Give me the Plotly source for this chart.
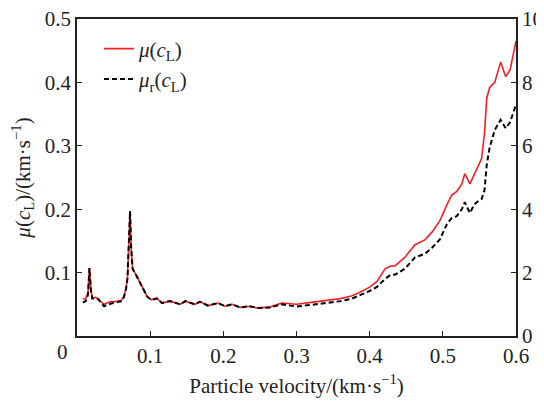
import plotly.graph_objects as go

# particle velocity (km/s)
velocity = [0.008, 0.012, 0.015, 0.017, 0.019, 0.021, 0.025, 0.029, 0.033, 0.037,
            0.041, 0.045, 0.050, 0.055, 0.060, 0.064, 0.067, 0.069, 0.071, 0.0725,
            0.074, 0.076, 0.080, 0.085, 0.090, 0.096, 0.102, 0.109, 0.116, 0.127,
            0.141, 0.148, 0.161, 0.168, 0.179, 0.193, 0.202, 0.212, 0.223, 0.236,
            0.247, 0.264, 0.280, 0.300, 0.320, 0.340, 0.360, 0.375, 0.387, 0.400,
            0.410, 0.421, 0.428, 0.435, 0.448, 0.462, 0.476, 0.486, 0.496, 0.506,
            0.512, 0.519, 0.526, 0.530, 0.537, 0.543, 0.548, 0.553, 0.557, 0.560,
            0.564, 0.571, 0.579, 0.586, 0.592, 0.600]

# mu(cL), left axis
mu = [0.058, 0.059, 0.068, 0.107, 0.072, 0.060, 0.061, 0.059, 0.054, 0.050,
      0.052, 0.054, 0.054, 0.055, 0.056, 0.062, 0.075, 0.092, 0.150, 0.197,
      0.140, 0.106, 0.098, 0.086, 0.074, 0.062, 0.057, 0.060, 0.052, 0.055,
      0.050, 0.055, 0.050, 0.054, 0.048, 0.052, 0.047, 0.050, 0.045, 0.047,
      0.044, 0.046, 0.052, 0.050, 0.053, 0.056, 0.059, 0.063, 0.069, 0.077,
      0.086, 0.106, 0.110, 0.111, 0.124, 0.144, 0.152, 0.165, 0.182, 0.208,
      0.222, 0.228, 0.240, 0.256, 0.240, 0.255, 0.267, 0.280, 0.320, 0.375,
      0.392, 0.400, 0.432, 0.409, 0.420, 0.465]

# mu_r(cL), right axis
mu_r = [1.05, 1.10, 1.30, 2.14, 1.45, 1.18, 1.20, 1.16, 1.04, 0.94,
        0.98, 1.02, 1.05, 1.07, 1.09, 1.22, 1.48, 1.82, 3.00, 3.94,
        2.80, 2.12, 1.96, 1.72, 1.48, 1.24, 1.14, 1.18, 1.04, 1.10,
        1.00, 1.10, 1.00, 1.08, 0.96, 1.04, 0.94, 1.00, 0.90, 0.94,
        0.88, 0.90, 1.00, 0.93, 0.98, 1.04, 1.10, 1.17, 1.28, 1.42,
        1.55, 1.80, 1.92, 1.94, 2.12, 2.48, 2.60, 2.80, 3.05, 3.55,
        3.72, 3.78, 4.00, 4.22, 3.88, 4.15, 4.25, 4.32, 4.60, 5.40,
        5.95, 6.50, 6.82, 6.55, 6.75, 7.30]

FONT = "Liberation Serif"
AX = "#222222"
FS = 21

fig = go.Figure()
fig.add_trace(go.Scatter(x=velocity, y=mu, mode="lines",
                         name="<i>μ</i>(<i>c</i><sub>L</sub>)",
                         line=dict(color="#ee2222", width=1.6)))
fig.add_trace(go.Scatter(x=velocity, y=mu_r, mode="lines", yaxis="y2",
                         name="<i>μ</i><sub>r</sub>(<i>c</i><sub>L</sub>)",
                         line=dict(color="black", width=2, dash="5px,3px")))

axis_common = dict(showline=True, linecolor=AX, linewidth=1.5, ticks="inside",
                   ticklen=5, tickcolor=AX, tickwidth=1.2, showgrid=False,
                   zeroline=False, automargin=False, ticklabeloverflow="allow",
                   tickfont=dict(family=FONT, size=FS, color=AX))

# page body adds an 8px offset, so margins are shifted to compensate
fig.update_layout(
    width=544, height=401,
    margin=dict(l=69, r=36, t=11, b=73),
    plot_bgcolor="white", paper_bgcolor="white",
    font=dict(family=FONT, size=FS, color=AX),
    xaxis=dict(range=[0, 0.6], tickvals=[0.1, 0.2, 0.3, 0.4, 0.5, 0.6],
               ticktext=["0.1", "0.2", "0.3", "0.4", "0.5", "0.6"],
               mirror=True,
               title=dict(text="Particle velocity/(km·s<sup>−1</sup>)",
                          font=dict(family=FONT, size=FS, color=AX), standoff=11),
               **axis_common),
    yaxis=dict(range=[0, 0.5], tickvals=[0.1, 0.2, 0.3, 0.4, 0.5],
               ticktext=["0.1", "0.2", "0.3", "0.4", "0.5"],
               title=dict(text="<i>μ</i>(<i>c</i><sub>L</sub>)/(km·s<sup>−1</sup>)",
                          font=dict(family=FONT, size=FS, color=AX), standoff=9),
               **axis_common),
    yaxis2=dict(range=[0, 10], tickvals=[0, 2, 4, 6, 8, 10], overlaying="y",
                side="right", **axis_common),
    legend=dict(x=0.05, y=0.97, xanchor="left", yanchor="top",
                bgcolor="rgba(0,0,0,0)", font=dict(family=FONT, size=FS, color=AX)),
    annotations=[dict(text="0", x=-0.032, y=-0.006, xref="paper", yref="paper",
                      showarrow=False, xanchor="center", yanchor="top",
                      font=dict(family=FONT, size=FS, color=AX))],
)

fig.write_html("out.html")
